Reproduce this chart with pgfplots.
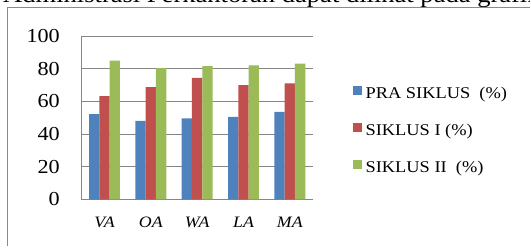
\documentclass[border=0pt]{standalone}
\usepackage{pgfplots}
\pgfplotsset{compat=1.18}
\usepackage{fontspec}
\setmainfont{Liberation Serif}[FakeStretch=1.12]
\definecolor{c1}{HTML}{4F81BD}
\definecolor{c2}{HTML}{C0504D}
\definecolor{c3}{HTML}{9BBB59}
\definecolor{gridcol}{HTML}{868686}
\definecolor{framecol}{HTML}{8A8A8A}
\begin{document}
\begin{tikzpicture}
\useasboundingbox (0pt,0pt) rectangle (530pt,246pt);
\clip (0pt,0pt) rectangle (530pt,246pt);
\node[anchor=base west, inner sep=0pt, font=\fontsize{23.7}{28}\selectfont] at (3pt,243.3pt) {Administrasi Perkantoran dapat dilihat pada grafik};
\draw[framecol, line width=1.2pt] (7.5pt,-5pt) -- (7.5pt,238.5pt) -- (540pt,238.5pt);
\begin{axis}[
  at={(81.3pt,46.7pt)}, anchor=south west,
  scale only axis, width=231.7pt, height=163pt,
  ymin=0, ymax=100, xmin=-0.5, xmax=4.5,
  ytick={0,20,...,100},
  xtick={0,...,4}, xticklabels={VA,OA,WA,LA,MA},
  /pgf/number format/assume math mode=true,
  xticklabel style={font=\fontsize{15.9}{18}\selectfont\itshape, anchor=north, inner sep=0pt, yshift=-17.4pt},
  yticklabel style={font=\fontsize{19.8}{22}\selectfont, anchor=east, inner sep=0pt, xshift=-21.3pt},
  major tick length=0pt,
  axis x line*=bottom, axis y line*=left,
  axis line style={gridcol, line width=1pt},
  ymajorgrids, grid style={gridcol, line width=1pt},
  ybar=0pt, bar width=10.3pt,
  legend style={at={(1.171,0.697)}, anchor=north west, draw=none, fill=none,
    inner sep=0pt, outer sep=0pt, row sep=20pt, column sep=3.5pt,
    font=\fontsize{16.4}{19}\selectfont,
    nodes={inner sep=0pt, text height=11pt, text depth=4pt}},
  legend cell align=left,
  legend image code/.code={\fill[#1] (0pt,0pt) rectangle (9.5pt,9.5pt);},
]
\addplot[fill=c1, draw=none] coordinates {(0,52.3) (1,48.1) (2,49.7) (3,50.5) (4,53.6)};
\addlegendentry{PRA SIKLUS\ \ (\%)}
\addplot[fill=c2, draw=none] coordinates {(0,63.3) (1,68.8) (2,74.5) (3,70.1) (4,71.1)};
\addlegendentry{SIKLUS I (\%)}
\addplot[fill=c3, draw=none] coordinates {(0,85.1) (1,80.4) (2,81.7) (3,82.1) (4,83.3)};
\addlegendentry{SIKLUS II\ \ (\%)}
\end{axis}
\end{tikzpicture}
\end{document}
